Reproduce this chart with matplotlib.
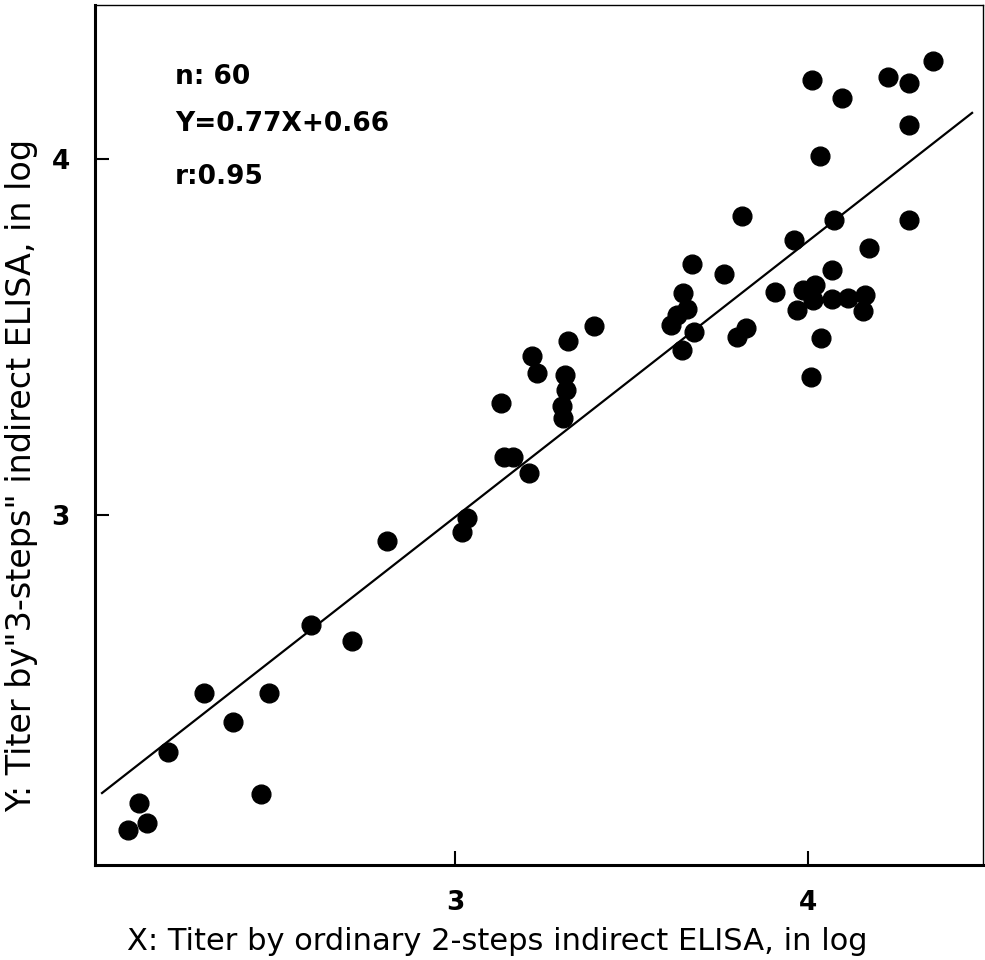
import matplotlib
matplotlib.use("Agg")
import matplotlib.pyplot as plt

# log titers
x_titer = [2.074, 2.105, 2.127, 2.187, 2.289, 2.371, 2.450, 2.473, 2.592, 2.708,
           2.807, 3.020, 3.034, 3.130, 3.139, 3.164, 3.210, 3.218, 3.232, 3.312,
           3.314, 3.303, 3.306, 3.320, 3.394, 3.612, 3.629, 3.657, 3.646, 3.643,
           3.677, 3.671, 3.762, 3.813, 3.799, 3.824, 3.907, 3.960, 3.969, 3.986,
           4.020, 4.014, 4.068, 4.113, 4.161, 4.156, 4.068, 4.074, 4.037, 4.008,
           4.011, 4.034, 4.096, 4.173, 4.227, 4.286, 4.286, 4.286, 4.354]
y_titer = [2.117, 2.192, 2.136, 2.336, 2.501, 2.420, 2.218, 2.501, 2.692, 2.647,
           2.928, 2.954, 2.993, 3.316, 3.164, 3.164, 3.119, 3.448, 3.400, 3.395,
           3.353, 3.308, 3.274, 3.490, 3.532, 3.535, 3.563, 3.580, 3.625, 3.465,
           3.515, 3.706, 3.678, 3.841, 3.501, 3.527, 3.628, 3.774, 3.577, 3.633,
           3.647, 3.605, 3.608, 3.611, 3.619, 3.574, 3.690, 3.830, 3.499, 3.389,
           4.221, 4.010, 4.173, 3.751, 4.232, 4.215, 4.097, 3.830, 4.277]

# regression line ends as drawn
line_x = [2.00, 4.465]
line_y = [2.22, 4.13]

stats_text = ["n: 60", "Y=0.77X+0.66", "r:0.95"]
stats_y = [4.232, 4.100, 3.951]

fig = plt.figure(figsize=(9.85, 9.6), dpi=100)
ax = fig.add_axes([0.0964, 0.099, 0.9016, 0.8958])

ax.plot(x_titer, y_titer, "o", color="black", markersize=13.5, zorder=3)
ax.plot(line_x, line_y, color="black", linewidth=1.6, zorder=2)

for txt, ty in zip(stats_text, stats_y):
    ax.text(2.207, ty, txt, fontsize=19, fontweight="bold", va="center", ha="left")

ax.set_xlim(1.98, 4.496)
ax.set_ylim(2.018, 4.433)
ax.set_xticks([3, 4])
ax.set_yticks([3, 4])
ax.tick_params(direction="in", length=10, width=1.5, labelsize=19, pad=18)
for lbl in ax.get_xticklabels() + ax.get_yticklabels():
    lbl.set_fontweight("bold")

for side, sp in ax.spines.items():
    sp.set_linewidth(2.2 if side in ("left", "bottom") else 1.0)

fig.text(0.505, 0.019, "X: Titer by ordinary 2-steps indirect ELISA, in log",
         fontsize=22, ha="center", va="center")
fig.text(0.022, 0.505, "Y: Titer by\"3-steps\" indirect ELISA, in log",
         fontsize=24, ha="center", va="center", rotation=90)

fig.savefig("out.png", dpi=100)
